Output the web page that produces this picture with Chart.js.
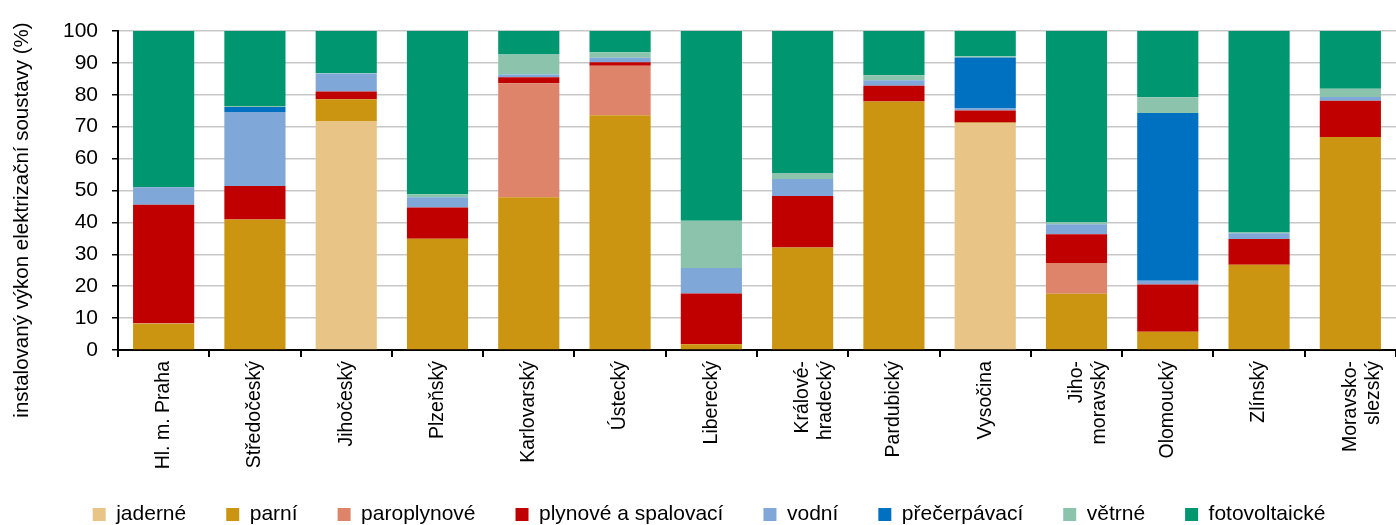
<!DOCTYPE html>
<html>
<head>
<meta charset="utf-8">
<script src="https://cdn.jsdelivr.net/npm/chart.js@4"></script>
<style>
  html, body { margin: 0; padding: 0; background: #fff; }
  #wrap { width: 1396px; height: 525px; }
</style>
</head>
<body>
<div id="wrap"><canvas id="graf" width="1396" height="525"></canvas></div>
<script>
// kraje
const kraje = [
    'Hl. m. Praha', 'Středočeský', 'Jihočeský', 'Plzeňský', 'Karlovarský', 'Ústecký', 'Liberecký',
    ['Králové-', 'hradecký'], 'Pardubický', 'Vysočina', ['Jiho-', 'moravský'], 'Olomoucký', 'Zlínský',
    ['Moravsko-', 'slezský']
];

// podíly typů elektráren (%)
const jaderne      = [0, 0, 71.8, 0, 0, 0, 0, 0, 0, 71.0, 0, 0, 0, 0];
const parni        = [8.2, 40.9, 6.8, 34.9, 47.9, 73.6, 1.8, 32.1, 77.9, 0.3, 17.6, 5.7, 26.7, 66.8];
const paroplynove  = [0.2, 0, 0, 0, 35.7, 15.5, 0, 0, 0, 0, 9.7, 0, 0, 0];
const plynove      = [37.1, 10.5, 2.4, 9.8, 1.9, 1.1, 15.9, 16.2, 4.9, 3.8, 9.0, 14.8, 8.1, 11.3];
const vodni        = [5.5, 23.2, 5.7, 3.2, 0.9, 1.4, 8.0, 5.3, 1.8, 0.6, 3.1, 1.2, 1.8, 1.2];
const precerpavaci = [0, 1.6, 0, 0, 0, 0, 0, 0, 0, 16.0, 0, 52.6, 0, 0];
const vetrne       = [0, 0.3, 0.1, 0.9, 6.2, 1.7, 14.8, 1.9, 1.5, 0.4, 0.7, 4.9, 0.2, 2.6];
const fotovolt     = [49.0, 23.5, 13.2, 51.2, 7.4, 6.7, 59.5, 44.5, 13.9, 7.9, 59.9, 20.8, 63.2, 18.1];

const yTicks = [0, 10, 20, 30, 40, 50, 60, 70, 80, 90, 100];

const font = 'Liberation Sans, Arial, sans-serif';

// titulek osy y - vlastní pozice
const titulekY = {
    id: 'titulekY',
    afterDraw(chart) {
        const ctx = chart.ctx;
        ctx.save();
        ctx.translate(22, 220);
        ctx.rotate(-Math.PI / 2);
        ctx.font = '20.5px ' + font;
        ctx.fillStyle = '#000';
        ctx.textAlign = 'center';
        ctx.textBaseline = 'middle';
        ctx.fillText('instalovaný výkon elektrizační soustavy (%)', 0, 0);
        ctx.restore();
    }
};

function sada(label, data, barva) {
    return {
        label: label,
        data: data,
        backgroundColor: barva,
        borderWidth: 0,
        barPercentage: 0.67,
        categoryPercentage: 1.0
    };
}

const ctx = document.getElementById('graf').getContext('2d');
const chart = new Chart(ctx, {
    type: 'bar',
    data: {
        labels: kraje,
        datasets: [
            sada('jaderné', jaderne, '#E8C587'),
            sada('parní', parni, '#CC9511'),
            sada('paroplynové', paroplynove, '#DD846B'),
            sada('plynové a spalovací', plynove, '#C00000'),
            sada('vodní', vodni, '#7FA7D8'),
            sada('přečerpávací', precerpavaci, '#0070C0'),
            sada('větrné', vetrne, '#8BC3AD'),
            sada('fotovoltaické', fotovolt, '#009670')
        ]
    },
    options: {
        responsive: false,
        animation: false,
        layout: { padding: { top: 31, left: 18, right: -4, bottom: -10 } },
        plugins: {
            legend: {
                position: 'bottom',
                labels: {
                    boxWidth: 13,
                    boxHeight: 13,
                    padding: 40,
                    color: '#000',
                    font: { family: font, size: 21 }
                }
            },
            tooltip: { enabled: false }
        },
        scales: {
            x: {
                stacked: true,
                afterFit(scale) {
                    scale.height = 114;
                    scale.paddingLeft = 0;
                    scale.paddingRight = 0;
                    // popisky nesmí být oříznuté
                    scale._computeLabelArea = () => undefined;
                },
                border: { color: '#000', width: 2 },
                grid: {
                    offset: true,
                    drawOnChartArea: false,
                    color: '#000',
                    lineWidth: 2,
                    tickLength: 7
                },
                ticks: {
                    minRotation: 90,
                    maxRotation: 90,
                    autoSkip: false,
                    padding: 4,
                    color: '#000',
                    font: { family: font, size: 19.5 }
                }
            },
            y: {
                stacked: true,
                min: 0,
                max: 100,
                afterFit(scale) { scale.width = 100; },
                afterBuildTicks(scale) { scale.ticks = yTicks.map(v => ({ value: v })); },
                border: { color: '#000', width: 2 },
                grid: {
                    color: '#C8C8C8',
                    lineWidth: 1.5,
                    tickColor: '#000',
                    tickLength: 6
                },
                ticks: {
                    padding: 14,
                    color: '#000',
                    font: { family: font, size: 21 }
                }
            }
        }
    },
    plugins: [titulekY]
});
</script>
</body>
</html>
